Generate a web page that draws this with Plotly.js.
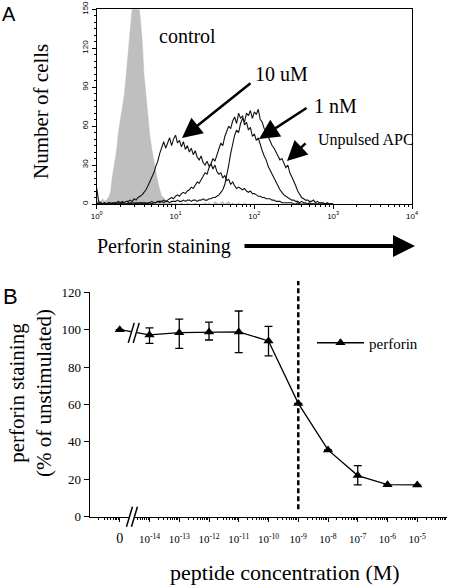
<!DOCTYPE html>
<html><head><meta charset="utf-8">
<script src="https://cdn.plot.ly/plotly-3.0.1.min.js"></script>
<style>html,body{margin:0;padding:0;background:#fff}#chart{width:450px;height:587px}</style>
</head><body><div id="chart"></div>
<script>
// ---------- Panel A: flow cytometry histograms (x = log10 fluorescence) ----------
const logBins = [
0,0.025,0.05,0.075,0.1,0.125,0.15,0.175,
0.2,0.225,0.25,0.275,0.3,0.325,0.35,0.375,
0.4,0.425,0.45,0.475,0.5,0.525,0.55,0.575,
0.6,0.625,0.65,0.675,0.7,0.725,0.75,0.775,
0.8,0.825,0.85,0.875,0.9,0.925,0.95,0.975,
1.0,1.025,1.05,1.075,1.1,1.125,1.15,1.175,
1.2,1.225,1.25,1.275,1.3,1.325,1.35,1.375,
1.4,1.425,1.45,1.475,1.5,1.525,1.55,1.575,
1.6,1.625,1.65,1.675,1.7,1.725,1.75,1.775,
1.8,1.825,1.85,1.875,1.9,1.925,1.95,1.975,
2.0,2.025,2.05,2.075,2.1,2.125,2.15,2.175,
2.2,2.225,2.25,2.275,2.3,2.325,2.35,2.375,
2.4,2.425,2.45,2.475,2.5,2.525,2.55,2.575,
2.6,2.625,2.65,2.675,2.7,2.725,2.75,2.775,
2.8,2.825,2.85,2.875,2.9,2.925,2.95,2.975,
3.0];
const controlCounts = [
3,1,2,4,2,3,5,9,
22,32,40,55,64,72,84,100,
118,135,152,168,165,158,145,128,
100,82,65,52,42,33,25,17,
11,6,5,3,2,1,1,0,
1,0,0,1,0,0,1,0,
0,0,1,0,0,0,0,1,
0,1,0,0,2,1,0,1,
2,0,1,2,0,1,0,0,
1,0,0,1,0,0,0,0,
0,0,0,0,0,0,0,0,
0,0,0,0,0,0,0,0,
0,0,0,0,0,0,0,0,
0,0,0,0,0,0,0,0,
0,0,0,0,0,0,0,0,
0];
const uM10Counts = [
12,2,1,0,1,0,1,1,
0,1,1,2,1,2,1,2,
2,3,2,4,3,5,6,7,
9,11,14,17,21,24,29,33,
39,44,48,43,47,51,45,50,
53,47,49,44,48,42,45,40,
43,38,41,36,34,37,32,30,
33,29,31,27,30,25,23,24,
20,22,18,19,15,17,14,12,
13,12,11,12,10,9,10,8,
8,7,6,6,5,5,4,4,
4,3,3,2,2,2,1,1,
1,1,1,1,0,0,1,0,
0,0,0,0,0,0,0,0,
0,0,0,0,0,0,0,0,
0];
const nM1Counts = [
0,1,0,0,1,0,0,0,
1,0,0,1,0,1,0,0,
1,0,1,1,0,1,1,0,
1,1,0,1,2,1,1,2,
2,2,3,2,3,4,5,4,
6,7,6,8,9,8,10,11,
13,12,15,17,16,19,21,24,
23,28,31,35,33,38,42,47,
45,52,56,60,58,64,67,62,
70,66,68,61,63,57,59,52,
54,49,51,45,41,37,34,29,
26,22,19,16,13,11,9,7,
6,5,4,3,3,2,2,1,
2,1,1,0,1,0,0,0,
0,0,0,0,0,0,0,0,
0];
const unpulsedCounts = [
0,0,1,0,0,0,1,0,
0,1,0,0,0,1,0,0,
0,1,0,0,1,0,1,1,
1,0,1,1,0,1,1,2,
1,2,1,2,2,1,2,2,
2,3,2,2,3,2,3,3,
2,3,3,2,3,3,4,3,
3,4,4,5,5,6,7,9,
11,15,22,30,39,47,53,57,
55,62,66,63,70,68,72,66,
71,69,73,65,63,58,56,52,
48,45,43,40,36,34,35,31,
28,30,24,21,18,14,10,7,
5,4,3,3,2,2,3,1,
2,1,1,1,0,1,0,0,
0];
const aTickVals = [0,1,2,3,4];
const aTickText = ['10<sup>0</sup>','10<sup>1</sup>','10<sup>2</sup>','10<sup>3</sup>','10<sup>4</sup>'];
const aYTicks = [0,30,60,90,120,150];

// ---------- Panel B: dose response ----------
const bCategories = ['0','10<sup>-14</sup>','10<sup>-13</sup>','10<sup>-12</sup>','10<sup>-11</sup>','10<sup>-10</sup>','10<sup>-9</sup>','10<sup>-8</sup>','10<sup>-7</sup>','10<sup>-6</sup>','10<sup>-5</sup>'];
const bIndex = [0,1,2,3,4,5,6,7,8,9,10];
const perforin = [100,97.2,98.4,98.8,98.8,94,60.6,35.7,22,17.1,17];
const errPlus  = [null,3.8,7.3,5.2,11.2,7.8,null,null,5.3,null,null];
const errMinus = [null,4.5,8.4,4.3,11.1,8.0,null,null,5.0,null,null];
const bYTicks = [0,20,40,60,80,100,120];
const ec50Index = 6;

const W = 450, H = 587;
const PX = x => x / W, PY = y => 1 - y / H;
const serif = 'Liberation Serif, Times New Roman, serif';
const sans = 'Liberation Sans, Arial, sans-serif';

const minorA = [];
for (let d = 0; d < 4; d++) for (let j = 2; j <= 9; j++) minorA.push(d + Math.log10(j));
const minorB = [];
for (let d = -1; d < 11; d++) for (let j = 2; j <= 9; j++) minorB.push(d + Math.log10(j));

const aXDom = [PX(96.7), PX(412)], aYDom = [PY(204), PY(9.3)];
const bXDom = [PX(90), PX(447)], bYDom = [PY(516.7), PY(292.3)];
const bYRange = [0, 120];
const yB = v => bYDom[0] + (v - bYRange[0]) / (bYRange[1] - bYRange[0]) * (bYDom[1] - bYDom[0]);

const traces = [
  {x: logBins, y: controlCounts, type: 'scatter', mode: 'lines', fill: 'tozeroy',
   fillcolor: '#bfbfbf', line: {color: '#bfbfbf', width: 0.5}, xaxis: 'x', yaxis: 'y', showlegend: false, hoverinfo: 'skip'},
  {x: logBins, y: uM10Counts, type: 'scatter', mode: 'lines', line: {color: '#111', width: 1.1}, xaxis: 'x', yaxis: 'y', showlegend: false},
  {x: logBins, y: nM1Counts, type: 'scatter', mode: 'lines', line: {color: '#111', width: 1.1}, xaxis: 'x', yaxis: 'y', showlegend: false},
  {x: logBins, y: unpulsedCounts, type: 'scatter', mode: 'lines', line: {color: '#111', width: 1.1}, xaxis: 'x', yaxis: 'y', showlegend: false},
  {x: bIndex, y: perforin, name: 'perforin', type: 'scatter', mode: 'lines+markers',
   line: {color: '#000', width: 1.3}, marker: {symbol: 'triangle-up', size: 9, color: '#000'},
   error_y: {type: 'data', symmetric: false, array: errPlus, arrayminus: errMinus, color: '#000', thickness: 1.3, width: 4},
   xaxis: 'x2', yaxis: 'y2', showlegend: true}
];

const brk = (xa, ya, xan, yan, dx, color, w) => ({type: 'line', xref: xa, yref: ya, xsizemode: 'pixel', ysizemode: 'pixel',
  xanchor: xan, yanchor: yan, x0: dx - 3, x1: dx + 3, y0: -10, y1: 10, line: {color: color, width: w}});

const shapes = [
  {type: 'line', xref: 'x2', yref: 'paper', x0: ec50Index, x1: ec50Index, y0: yB(4), y1: yB(126),
   line: {color: '#000', width: 2.5, dash: '5px,3px'}},
  brk('x2', 'y2', 0.47, 98.3, 0, '#fff', 6),
  brk('x2', 'y2', 0.47, 98.3, -2.5, '#000', 1.5),
  brk('x2', 'y2', 0.47, 98.3, 2.5, '#000', 1.5),
  brk('x2', 'paper', 0.41, bYDom[0], 0, '#fff', 6),
  brk('x2', 'paper', 0.41, bYDom[0], -2.5, '#000', 1.5),
  brk('x2', 'paper', 0.41, bYDom[0], 2.5, '#000', 1.5)
];

const txt = (text, x, y, size, fam, extra) => Object.assign({text: text, xref: 'paper', yref: 'paper', x: PX(x), y: PY(y),
  showarrow: false, font: {family: fam, size: size, color: '#000'}, xanchor: 'center', yanchor: 'middle'}, extra || {});
const arr = (tipx, tipy, tailx, taily, w, s) => ({text: '', xref: 'paper', yref: 'paper', x: PX(tipx), y: PY(tipy),
  ax: tailx - tipx, ay: taily - tipy, showarrow: true, arrowhead: 2, arrowwidth: w, arrowsize: s, arrowcolor: '#000',
  font: {size: 1}, standoff: 0, startstandoff: 0});

const annotations = [
  txt('A', 9, 14, 20, sans),
  txt('B', 10, 297, 22, sans),
  txt('control', 187, 36, 20, serif),
  txt('10 uM', 281, 74, 20, serif),
  txt('1 nM', 335, 106, 20, serif),
  txt('Unpulsed APC', 366, 140, 16, serif),
  txt('Number of cells', 41, 112, 21, serif, {textangle: -90}),
  txt('Perforin staining', 95, 246, 20, serif, {xanchor: 'left'}),
  txt('perforin staining<br>(% of unstimulated)', 30, 393, 21, serif, {textangle: -90}),
  txt('peptide concentration (M)', 285, 572, 22, serif),
  arr(182, 138, 252, 82, 2.5, 1.6),
  arr(259, 139, 308, 107, 2.5, 1.6),
  arr(287, 161, 307, 142, 2.5, 1.6),
  arr(415, 246, 243, 246, 4, 1.1)
];

const layout = {
  width: W, height: H, autosize: false, margin: {l: 0, r: 0, t: 0, b: 0},
  paper_bgcolor: '#fff', plot_bgcolor: 'rgba(0,0,0,0)',
  font: {family: serif, color: '#000'},
  showlegend: true,
  legend: {x: PX(312), y: PY(343), xanchor: 'left', yanchor: 'middle', bgcolor: 'rgba(0,0,0,0)',
    font: {family: serif, size: 15, color: '#000'}, itemwidth: 47},
  xaxis: {domain: aXDom, range: [0, 4], anchor: 'y', showline: true, mirror: true, linecolor: '#000', linewidth: 1.2,
    showgrid: false, zeroline: false, ticks: 'outside', ticklen: 4, tickcolor: '#000',
    tickmode: 'array', tickvals: aTickVals, ticktext: aTickText, tickfont: {family: sans, size: 8},
    minor: {tickmode: 'array', tickvals: minorA, ticks: 'outside', ticklen: 2, tickcolor: '#000'}},
  yaxis: {domain: aYDom, range: [0, 150], anchor: 'x', showline: true, mirror: true, linecolor: '#000', linewidth: 1.2,
    showgrid: false, zeroline: false, ticks: 'outside', ticklen: 4, tickcolor: '#000',
    tickmode: 'array', tickvals: aYTicks, tickangle: -90, tickfont: {family: sans, size: 8},
    minor: {dtick: 5, ticks: 'outside', ticklen: 2, tickcolor: '#000'}},
  xaxis2: {domain: bXDom, range: [-1, 11], anchor: 'y2', showline: true, linecolor: '#000', linewidth: 1.3,
    showgrid: false, zeroline: false, ticks: 'outside', ticklen: 4, tickcolor: '#000',
    tickmode: 'array', tickvals: bIndex, ticktext: bCategories.map((t, i) => i === 0 ? '<span style="font-size:14px">' + t + '</span>' : t),
    tickfont: {family: serif, size: 11}, ticklabelstandoff: 8,
    minor: {tickmode: 'array', tickvals: minorB, ticks: 'outside', ticklen: 2, tickcolor: '#000'}},
  yaxis2: {domain: bYDom, range: bYRange, anchor: 'x2', showline: true, linecolor: '#000', linewidth: 1.3,
    showgrid: false, zeroline: false, ticks: 'outside', ticklen: 5, tickcolor: '#000',
    tickmode: 'array', tickvals: bYTicks, tickfont: {family: serif, size: 13}},
  shapes: shapes,
  annotations: annotations
};

Plotly.newPlot('chart', traces, layout, {staticPlot: true});
</script>
</body></html>
